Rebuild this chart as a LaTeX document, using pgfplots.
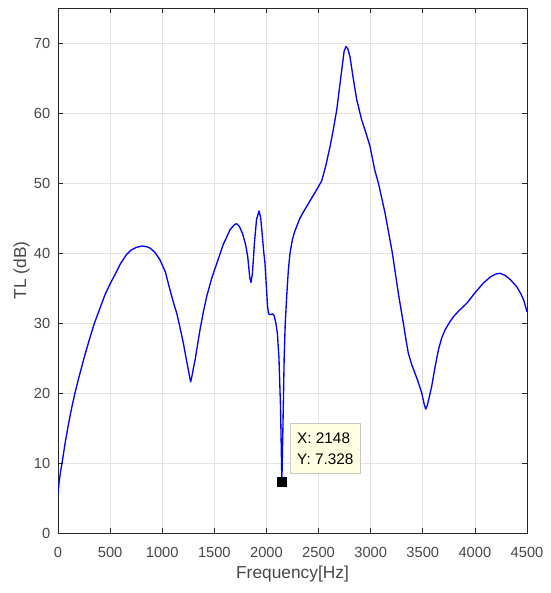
\documentclass[border=0pt]{standalone}
\usepackage{pgfplots}
\pgfplotsset{compat=1.18}
\usepackage{fontspec}
\setmainfont{Liberation Sans}
\definecolor{axgray}{RGB}{38,38,38}
\definecolor{tipfill}{RGB}{255,255,225}
\definecolor{tipedge}{RGB}{200,200,190}

\pgfplotstableread{
f y
0 5.5
10 7.2
25 8.8
42 10.3
70 13
100 15.5
130 17.8
163 20
200 22.2
250 25
300 27.6
350 30
400 32
450 34
500 35.6
550 37
600 38.5
659 39.8
700 40.4
750 40.8
809 41.0
850 40.9
883 40.7
930 40.1
979 39
1030 37.3
1075 34.7
1110 32.8
1139 31.4
1170 29.4
1203 27.1
1230 24.9
1251 23.3
1265 22.1
1273 21.6
1285 22.4
1300 23.6
1315 24.7
1340 27
1362 29
1395 31.6
1427 33.8
1475 36.4
1523 38.5
1585 41.2
1650 43.3
1690 44
1714 44.2
1740 43.8
1770 42.8
1800 41.2
1820 39.5
1840 36.5
1852 35.8
1865 37
1885 41.5
1905 44.8
1929 46.0
1945 45
1960 42.5
1975 40
1986 38.5
2000 35
2010 32.5
2020 31.3
2040 31.2
2060 31.3
2075 31
2090 30
2105 28.5
2120 25
2135 18
2148 7.328
2158 15
2170 25
2180 29.8
2195 34
2210 37.5
2226 40
2250 42
2270 43
2290 43.8
2322 45
2360 46
2400 47
2440 48
2480 49
2530 50.3
2570 52.5
2610 55.2
2640 57.5
2674 60.4
2700 63.5
2722 66.1
2745 68.8
2763 69.5
2780 69.2
2802 68
2830 65.2
2866 61.9
2914 59
2962 56.8
2994 55.2
3040 51.8
3074 50
3138 45.7
3208 40
3266 34.2
3313 30
3340 27.5
3361 25.7
3395 24
3426 22.8
3460 21.4
3490 20
3512 18.5
3528 17.7
3545 18.3
3565 19.6
3585 20.9
3615 23.5
3649 26.1
3680 27.8
3713 29
3761 30.2
3800 31
3850 31.8
3921 32.8
4000 34.3
4081 35.7
4150 36.6
4200 37.0
4241 37.1
4290 36.8
4340 36.2
4401 35.2
4440 34.2
4470 33.2
4500 31.6
}\tl

\begin{document}
\begin{tikzpicture}
\begin{axis}[
  scale only axis,
  width=351.75pt, height=393.75pt,
  xmin=0, xmax=4500, ymin=0, ymax=75,
  xtick={0,500,...,4500}, ytick={0,10,...,70},
  axis line style={axgray, line width=0.6pt},
  tick style={axgray, line width=0.5pt},
  tick align=inside, major tick length=4pt,
  grid=major,
  major grid style={gray!22, line width=0.5pt},
  ticklabel style={font=\fontsize{11}{13}\selectfont, text=axgray!85},
  /pgf/number format/assume math mode=true,
  scaled x ticks=false,
  xticklabel style={/pgf/number format/1000 sep={}, yshift=-7pt},
  yticklabel style={xshift=-2.3pt},
  xlabel={Frequency[Hz]}, ylabel={TL (dB)},
  label style={font=\fontsize{13}{15}\selectfont, text=axgray!85},
  xlabel style={at={(axis description cs:0.5,-0.0546)}, anchor=north},
  ylabel style={at={(axis description cs:-0.05,0.5)}, anchor=south},
]
\addplot[blue, line width=1pt, line join=round] table[x=f, y=y] {\tl};
\addplot[only marks, mark=square*, mark size=3.6pt, black] coordinates {(2148,7.328)};
\node[anchor=north west, fill=tipfill, draw=tipedge, line width=0.5pt,
      minimum width=52.5pt, minimum height=37.5pt, inner sep=3.5pt,
      align=left, font=\fontsize{11.5}{15.75}\selectfont, text=black]
  at (axis cs:2226,15.7) {X: 2148\\Y: 7.328};
\coordinate (bl) at (rel axis cs:0,0);
\coordinate (tr) at (rel axis cs:1,1);
\end{axis}
\pgfresetboundingbox
\path ([shift={(-43.5pt,-45pt)}]bl) rectangle ([shift={(17.25pt,6pt)}]tr);
\end{tikzpicture}
\end{document}
